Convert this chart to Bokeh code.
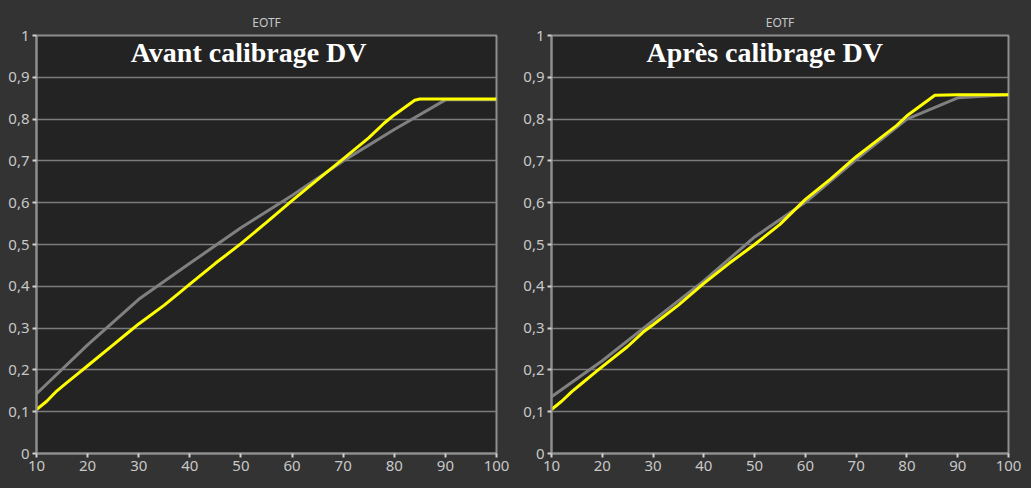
from bokeh.plotting import figure
from bokeh.layouts import row
from bokeh.models import FixedTicker, CustomJSTickFormatter, Label, Range1d
from bokeh.embed import file_html
from bokeh.resources import INLINE

# ---- data ----
x_ticks = [10, 20, 30, 40, 50, 60, 70, 80, 90, 100]
y_ticks = [0.0, 0.1, 0.2, 0.3, 0.4, 0.5, 0.6, 0.7, 0.8, 0.9, 1.0]

# Avant calibrage
before_target_x = [10, 20, 30, 40, 50, 60, 70, 80, 90, 100]
before_target_y = [0.143, 0.26, 0.369, 0.455, 0.54, 0.617, 0.70, 0.775, 0.846, 0.846]
before_meas_x = [10, 12, 14, 16, 18, 20, 25, 28, 30, 35, 38, 40, 45, 50, 55, 60, 65, 70, 75, 78, 80, 84, 85, 90, 100]
before_meas_y = [0.105, 0.125, 0.15, 0.17, 0.19, 0.21, 0.26, 0.29, 0.31, 0.355, 0.385, 0.405, 0.455, 0.502,
                 0.553, 0.605, 0.655, 0.705, 0.755, 0.79, 0.81, 0.845, 0.848, 0.848, 0.848]

# Après calibrage
after_target_x = [10, 20, 30, 40, 50, 60, 70, 80, 90, 100]
after_target_y = [0.136, 0.222, 0.318, 0.413, 0.518, 0.601, 0.703, 0.80, 0.851, 0.858]
after_meas_x = [10, 12, 14, 16, 18, 20, 25, 28, 30, 35, 40, 45, 50, 55, 60, 65, 70, 75, 78, 80, 85.5, 90, 100]
after_meas_y = [0.105, 0.125, 0.148, 0.168, 0.188, 0.208, 0.256, 0.29, 0.308, 0.355, 0.407, 0.455, 0.5,
                0.548, 0.608, 0.657, 0.71, 0.757, 0.785, 0.808, 0.857, 0.858, 0.858]

titles = ["EOTF", "EOTF"]
captions = ["Avant calibrage DV", "Après calibrage DV"]

BG = "#333333"
FRAME_BG = "#232323"
GRID = "#7c7c7c"
AXIS = "#8e8e8e"
LABEL = "#c8c8c8"

fmt_code = """
const r = Math.round(tick * 10) / 10;
if (r === 0 || r === 1) return r.toFixed(0);
return r.toFixed(1).replace('.', ',');
"""


def make_panel(tx, ty, mx, my, title, caption, width, border_left, border_right, cap_x):
    p = figure(width=width, height=488, output_backend="svg", toolbar_location=None,
               x_range=Range1d(10, 100), y_range=Range1d(0, 1),
               min_border_left=border_left, min_border_right=border_right,
               min_border_top=35, min_border_bottom=35)
    p.border_fill_color = BG
    p.background_fill_color = FRAME_BG
    p.outline_line_color = AXIS
    p.outline_line_width = 2

    p.title.text = title
    p.title.align = "center"
    p.title.text_color = LABEL
    p.title.text_font = "Noto Sans"
    p.title.text_font_size = "12px"
    p.title.text_font_style = "normal"

    p.xaxis.ticker = FixedTicker(ticks=x_ticks)
    p.yaxis.ticker = FixedTicker(ticks=y_ticks)
    p.yaxis.formatter = CustomJSTickFormatter(code=fmt_code)
    for ax in (p.xaxis, p.yaxis):
        ax.axis_line_color = AXIS
        ax.axis_line_width = 2
        ax.major_tick_line_color = "#d0d0d0"
        ax.major_tick_line_width = 2
        ax.major_tick_in = 0
        ax.major_tick_out = 4
        ax.minor_tick_line_color = None
        ax.major_label_text_color = LABEL
        ax.major_label_text_font = "Noto Sans"
        ax.major_label_standoff = 3
    p.xaxis.major_label_text_font_size = "15px"
    p.yaxis.major_label_text_font_size = "15px"

    p.xgrid.grid_line_color = None
    p.ygrid.grid_line_color = GRID
    p.ygrid.grid_line_width = 1.5

    p.line(tx, ty, line_color="#808080", line_width=3)
    p.line(mx, my, line_color="#ffff00", line_width=3)

    p.add_layout(Label(x=cap_x, y=0.959, text=caption, text_align="center", text_baseline="middle",
                       text_font="Liberation Serif", text_font_style="bold",
                       text_font_size="28px", text_color="#ffffff"))
    return p


p1 = make_panel(before_target_x, before_target_y, before_meas_x, before_meas_y,
                titles[0], captions[0], 520, 36, 24, 51.5)
p2 = make_panel(after_target_x, after_target_y, after_meas_x, after_meas_y,
                titles[1], captions[1], 511, 29, 23, 52)

layout = row(p1, p2)
html = file_html(layout, INLINE)
html = html.replace("<head>", "<head><style>html,body{background:#333333;}</style>", 1)
open("out.html", "w").write(html)
